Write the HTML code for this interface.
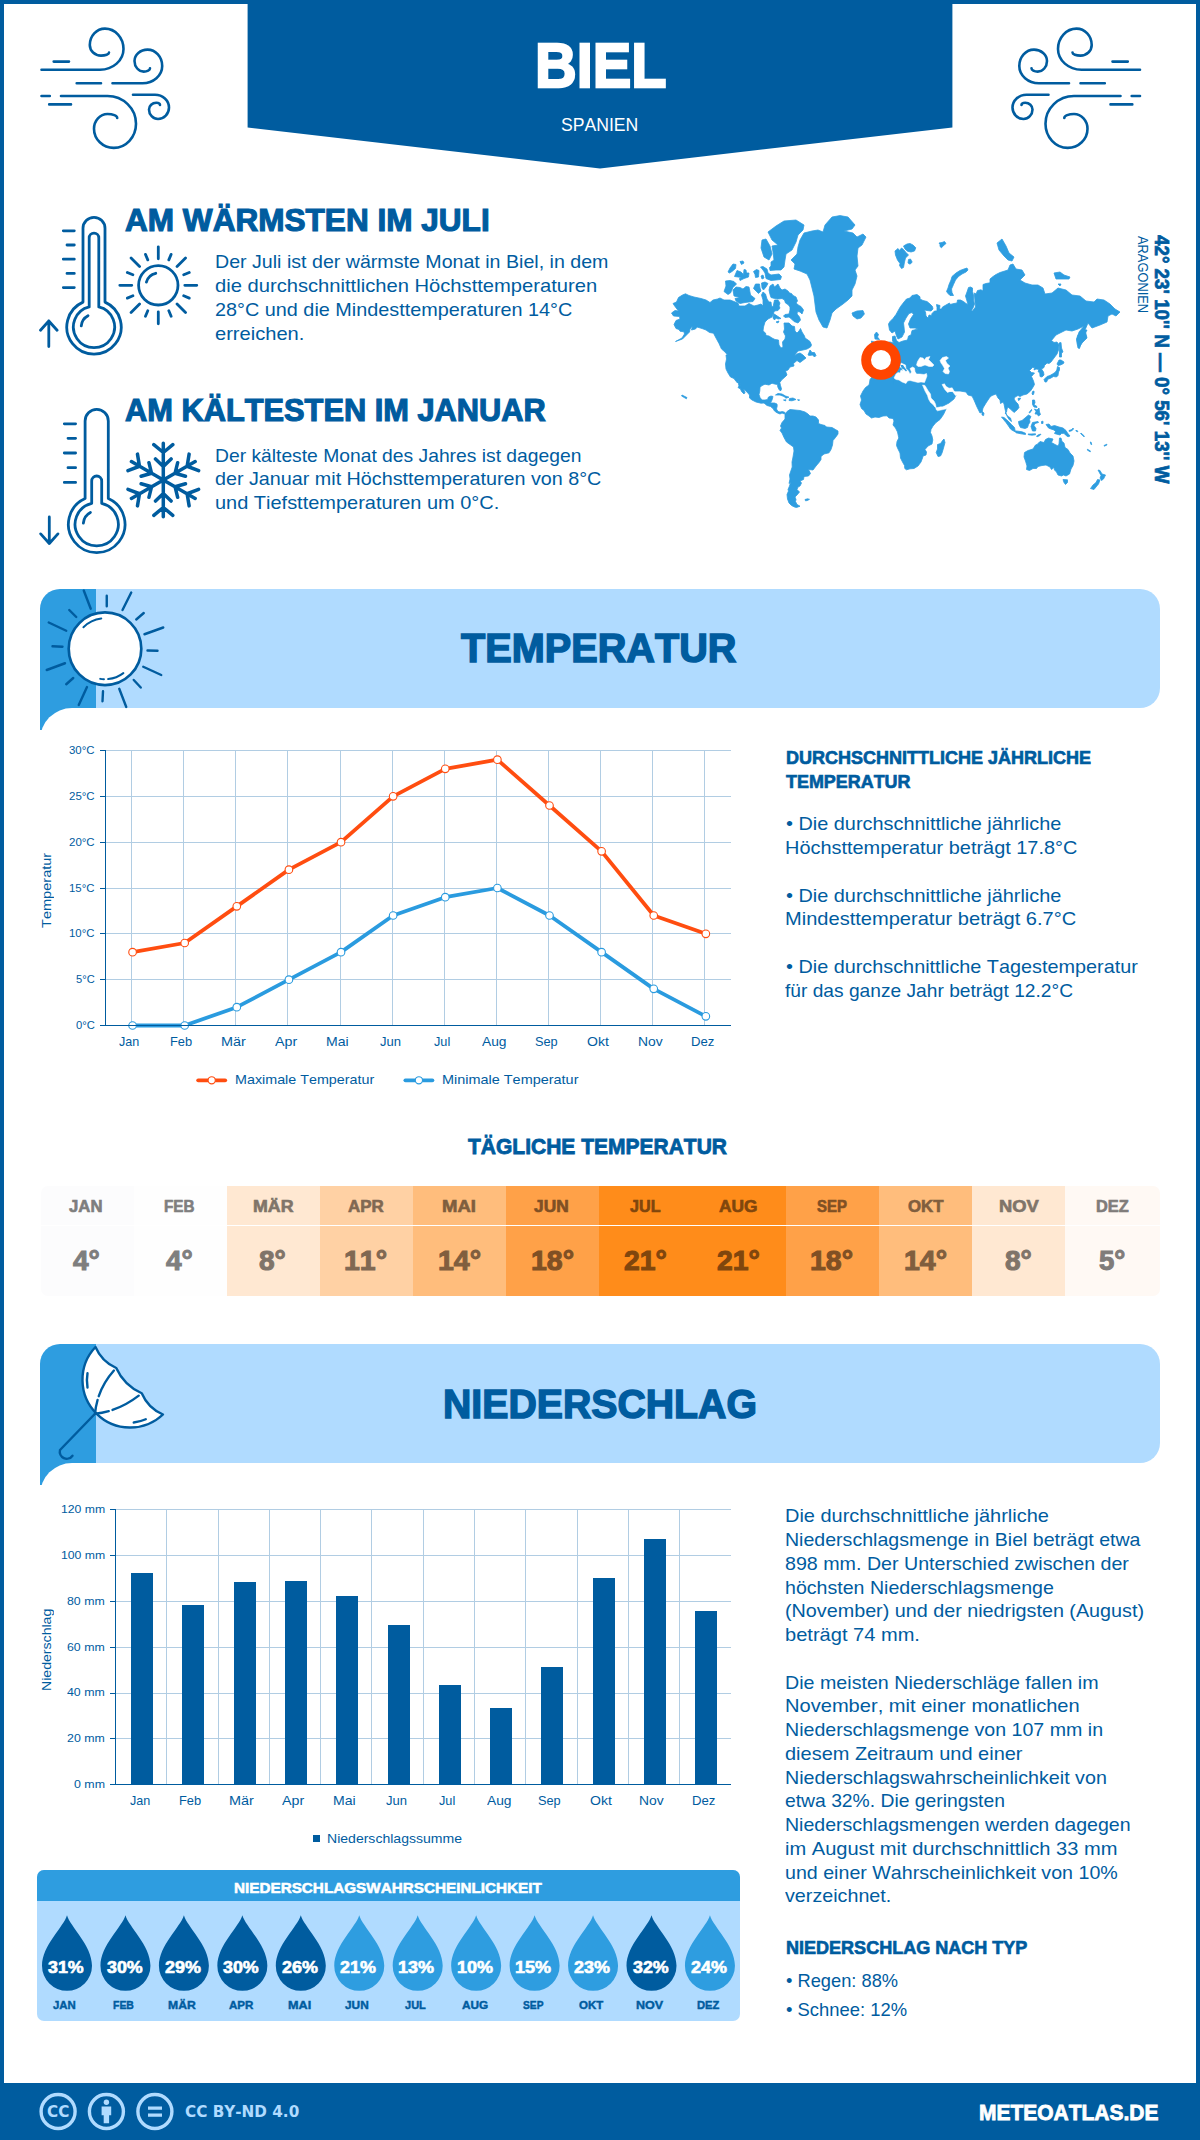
<!DOCTYPE html>
<html lang="de"><head><meta charset="utf-8"><title>Biel – Klima</title>
<style>
*{margin:0;padding:0;box-sizing:border-box}
html,body{width:1200px;height:2140px;background:#fff;overflow:hidden}
body{position:relative;font-family:"Liberation Sans",sans-serif;color:#005c9f;font-kerning:none}
.abs{position:absolute}
.t{position:absolute;white-space:nowrap;color:#005c9f;transform-origin:0 0}
svg{position:absolute;left:0;top:0;overflow:visible}
.frame{position:absolute;left:0;top:0;width:1200px;height:2140px;border:4px solid #005c9f;border-bottom:0;pointer-events:none}
.footer{position:absolute;left:0;top:2083px;width:1200px;height:57px;background:#005c9f}
.band{position:absolute;left:96px;width:1064px;height:119px;background:#b0dbff;border-radius:0 20px 20px 0}
.strip{position:absolute;left:40px;width:56px;height:141px;background:#2e9de0;border-radius:20px 0 0 0}
.panel{position:absolute;left:40px;width:200px;height:60px;background:#fff;border-radius:32px 0 0 0}
.rot{position:absolute;width:0;height:0;transform-origin:0 0}
</style></head><body>

<header>
<svg width="1200" height="2140" viewBox="0 0 1200 2140">
<polygon points="247.6,0 952.4,0 952.4,127.4 600,168.4 247.6,127.4" fill="#005c9f"/>
<g fill="none" stroke="#005c9f" stroke-width="2.6" stroke-linecap="round" stroke-linejoin="round"><path d="M41.50,69.70 L100.00,69.70 A23.50,20.70 0 0 0 123.50,49.00 A18.50,20.40 0 0 0 105.00,28.60 A15.20,16.40 0 0 0 89.80,45.00 A11.20,10.60 0 0 0 101.00,55.60 A8.00,3.00 0 0 0 109.00,52.60 M112.50,83.20 L142.50,83.20 A19.70,17.20 0 0 0 162.20,66.00 A14.70,16.40 0 0 0 147.50,49.60 A13.00,11.40 0 0 0 134.50,61.00 A9.25,10.60 0 0 0 143.75,71.60 A6.25,3.40 0 0 0 150.00,68.20 M61.00,96.00 L107.50,96.00 A28.50,27.75 0 0 1 136.00,123.75 A22.25,24.15 0 0 1 113.75,147.90 A19.75,19.15 0 0 1 94.00,128.75 A13.50,14.75 0 0 1 107.50,114.00 A9.70,4.00 0 0 1 117.20,118.00 M133.00,94.70 L155.00,94.70 A14.00,12.80 0 0 1 169.00,107.50 A11.00,11.50 0 0 1 158.00,119.00 A9.00,9.50 0 0 1 149.00,109.50 A7.25,6.80 0 0 1 156.25,102.70 A3.75,2.30 0 0 1 160.00,105.00 M53.7,61.6 L69,61.6 M76.7,83.2 L101,83.2 M41.5,96 L49.8,96 M49.2,104.4 L71,104.4"/></g>
<g transform="translate(1181.5,0) scale(-1,1)" fill="none" stroke="#005c9f" stroke-width="2.6" stroke-linecap="round" stroke-linejoin="round"><path d="M41.50,69.70 L100.00,69.70 A23.50,20.70 0 0 0 123.50,49.00 A18.50,20.40 0 0 0 105.00,28.60 A15.20,16.40 0 0 0 89.80,45.00 A11.20,10.60 0 0 0 101.00,55.60 A8.00,3.00 0 0 0 109.00,52.60 M112.50,83.20 L142.50,83.20 A19.70,17.20 0 0 0 162.20,66.00 A14.70,16.40 0 0 0 147.50,49.60 A13.00,11.40 0 0 0 134.50,61.00 A9.25,10.60 0 0 0 143.75,71.60 A6.25,3.40 0 0 0 150.00,68.20 M61.00,96.00 L107.50,96.00 A28.50,27.75 0 0 1 136.00,123.75 A22.25,24.15 0 0 1 113.75,147.90 A19.75,19.15 0 0 1 94.00,128.75 A13.50,14.75 0 0 1 107.50,114.00 A9.70,4.00 0 0 1 117.20,118.00 M133.00,94.70 L155.00,94.70 A14.00,12.80 0 0 1 169.00,107.50 A11.00,11.50 0 0 1 158.00,119.00 A9.00,9.50 0 0 1 149.00,109.50 A7.25,6.80 0 0 1 156.25,102.70 A3.75,2.30 0 0 1 160.00,105.00 M53.7,61.6 L69,61.6 M76.7,83.2 L101,83.2 M41.5,96 L49.8,96 M49.2,104.4 L71,104.4"/></g>
</svg>
<div class="t h1" style="left:534.93px;top:27.36px;font-size:62.2px;line-height:78px;font-weight:700;color:#fff;transform:scaleX(0.9289);-webkit-text-stroke:2.28px;">BIEL</div>
<div class="t" style="left:560.88px;top:112.50px;font-size:19.2px;line-height:24px;color:#fff;transform:scaleX(0.9182);">SPANIEN</div>
</header>
<section>
<svg width="1200" height="2140" viewBox="0 0 1200 2140">
<path d="M83.00,302.12 L83.00,228.30 A11,11 0 0 1 105.00,228.30 L105.00,302.12 A27.2,27.2 0 1 1 83.00,302.12 Z M89.20,306.97 L89.20,238.00 A4.8,4.8 0 0 1 98.80,238.00 L98.80,306.97 A20.6,20.6 0 1 1 89.20,306.97 Z M81.28,325.89 A12.77,12.77 0 0 1 88.00,315.72 M63.3,230.8 L74.3,230.8 M67,245 L74.3,245 M63.3,259.2 L74.3,259.2 M67,273.4 L74.3,273.4 M63.3,287.6 L74.3,287.6 M48.8,321 L48.8,346.5 M40.5,330.3 L48.8,321 L57.099999999999994,330.3" fill="none" stroke="#005c9f" stroke-width="2.8" stroke-linecap="round" stroke-linejoin="round"/>
<path d="M85.10,498.49 L85.10,420.90 A11.6,11.6 0 0 1 108.30,420.90 L108.30,498.49 A28.3,28.3 0 1 1 85.10,498.49 Z M91.70,503.29 L91.70,481.00 A5.0,5.0 0 0 1 101.70,481.00 L101.70,503.29 A21.6,21.6 0 1 1 91.70,503.29 Z M83.36,523.13 A13.39,13.39 0 0 1 90.41,512.48 M64.3,423.8 L75.6,423.8 M68,438.3 L75.6,438.3 M64.3,453 L75.6,453 M68,467.7 L75.6,467.7 M64.3,482.4 L75.6,482.4 M49.3,517 L49.3,543.5 M40.699999999999996,533.9 L49.3,543.5 L57.9,533.9" fill="none" stroke="#005c9f" stroke-width="2.8" stroke-linecap="round" stroke-linejoin="round"/>
<circle cx="158.3" cy="285.3" r="19.7" fill="none" stroke="#005c9f" stroke-width="2.8"/><path d="M184.80,285.30 L196.80,285.30 M183.71,295.82 L189.25,298.12 M177.04,304.04 L185.52,312.52 M168.82,310.71 L171.12,316.25 M158.30,311.80 L158.30,323.80 M147.78,310.71 L145.48,316.25 M139.56,304.04 L131.08,312.52 M132.89,295.82 L127.35,298.12 M131.80,285.30 L119.80,285.30 M132.89,274.78 L127.35,272.48 M139.56,266.56 L131.08,258.08 M147.78,259.89 L145.48,254.35 M158.30,258.80 L158.30,246.80 M168.82,259.89 L171.12,254.35 M177.04,266.56 L185.52,258.08 M183.71,274.78 L189.25,272.48 M146.42,282.12 A12.3,12.3 0 0 1 155.74,273.27" fill="none" stroke="#005c9f" stroke-width="2.8" stroke-linecap="round"/>
<path d="M163.30,480.00 L163.30,443.20 M163.30,452.50 L153.80,444.70 M163.30,452.50 L172.80,444.70 M163.30,466.40 L155.50,458.90 M163.30,466.40 L171.10,458.90 M163.30,480.00 L195.17,461.60 M187.12,466.25 L189.12,454.12 M187.12,466.25 L198.62,470.58 M175.08,473.20 L177.67,462.70 M175.08,473.20 L185.47,476.20 M163.30,480.00 L195.17,498.40 M187.12,493.75 L198.62,489.42 M187.12,493.75 L189.12,505.88 M175.08,486.80 L185.47,483.80 M175.08,486.80 L177.67,497.30 M163.30,480.00 L163.30,516.80 M163.30,507.50 L172.80,515.30 M163.30,507.50 L153.80,515.30 M163.30,493.60 L171.10,501.10 M163.30,493.60 L155.50,501.10 M163.30,480.00 L131.43,498.40 M139.48,493.75 L137.48,505.88 M139.48,493.75 L127.98,489.42 M151.52,486.80 L148.93,497.30 M151.52,486.80 L141.13,483.80 M163.30,480.00 L131.43,461.60 M139.48,466.25 L127.98,470.58 M139.48,466.25 L137.48,454.12 M151.52,473.20 L141.13,476.20 M151.52,473.20 L148.93,462.70" fill="none" stroke="#005c9f" stroke-width="3.5" stroke-linecap="round" stroke-linejoin="round"/>
</svg>
<div class="t" style="left:124.98px;top:201.13px;font-size:31px;line-height:39px;font-weight:700;transform:scaleX(1.0180);-webkit-text-stroke:1.14px;">AM WÄRMSTEN IM JULI</div>
<div class="t" style="left:215.24px;top:250.40px;font-size:19px;line-height:24px;transform:scaleX(1.0321);">Der Juli ist der wärmste Monat in Biel, in dem</div>
<div class="t" style="left:215.21px;top:274.10px;font-size:19px;line-height:24px;transform:scaleX(1.0611);">die durchschnittlichen Höchsttemperaturen</div>
<div class="t" style="left:214.93px;top:297.80px;font-size:19px;line-height:24px;transform:scaleX(1.0430);">28°C und die Mindesttemperaturen 14°C</div>
<div class="t" style="left:215.21px;top:321.50px;font-size:19px;line-height:24px;transform:scaleX(1.0579);">erreichen.</div>
<div class="t" style="left:125.00px;top:391.13px;font-size:31px;line-height:39px;font-weight:700;transform:scaleX(0.9931);-webkit-text-stroke:1.14px;">AM KÄLTESTEN IM JANUAR</div>
<div class="t" style="left:215.27px;top:443.70px;font-size:19px;line-height:24px;transform:scaleX(1.0144);">Der kälteste Monat des Jahres ist dagegen</div>
<div class="t" style="left:215.23px;top:467.40px;font-size:19px;line-height:24px;transform:scaleX(1.0386);">der Januar mit Höchsttemperaturen von 8°C</div>
<div class="t" style="left:215.22px;top:491.10px;font-size:19px;line-height:24px;transform:scaleX(1.0507);">und Tiefsttemperaturen um 0°C.</div>
<div class="rot" style="left:1155px;top:235.3px;transform:rotate(90deg)"><div class="t" style="left:0.08px;top:-19.36px;font-size:19.4px;line-height:24px;font-weight:700;transform:scaleX(0.9683);-webkit-text-stroke:0.72px;">42° 23&#x27; 10&#x27;&#x27; N — 0° 56&#x27; 13&#x27;&#x27; W</div><div class="t" style="left:0.67px;top:3.00px;font-size:14.8px;line-height:18px;transform:scaleX(0.8678);">ARAGONIEN</div></div>
<svg width="1200" height="2140" viewBox="0 0 1200 2140"><path d="M685.5,293.8 L689.0,295.5 L694.0,297.0 L701.0,298.5 L706.0,300.0 L710.0,302.5 L713.0,300.0 L717.5,299.0 L720.0,298.0 L724.0,300.0 L730.0,300.0 L738.0,303.0 L739.0,306.0 L745.0,306.0 L749.0,303.5 L754.0,306.0 L758.0,305.0 L761.0,304.0 L763.0,306.0 L763.0,300.0 L761.5,295.0 L763.0,292.0 L765.5,294.0 L767.0,299.0 L769.0,302.0 L771.0,302.0 L771.5,306.0 L773.0,307.0 L774.5,300.0 L778.0,300.0 L780.0,303.0 L779.0,306.0 L780.0,308.0 L778.0,310.5 L774.5,311.0 L773.0,314.0 L772.0,317.0 L768.0,319.0 L765.0,322.0 L763.5,327.0 L763.0,331.0 L765.5,333.0 L766.0,335.5 L769.0,336.0 L772.0,338.0 L775.0,339.5 L778.5,340.0 L779.0,345.0 L781.0,348.0 L783.0,347.0 L782.5,342.0 L785.0,339.0 L785.5,336.0 L783.5,332.0 L784.5,329.0 L784.0,323.0 L789.0,323.0 L792.0,326.0 L794.5,326.5 L795.0,331.0 L797.0,333.0 L799.0,331.0 L800.5,328.5 L802.0,332.0 L804.5,336.0 L805.0,338.0 L808.0,340.0 L810.0,341.5 L811.5,345.0 L810.5,347.0 L807.0,349.0 L803.0,350.0 L798.0,351.0 L794.0,356.0 L797.0,354.0 L800.0,353.0 L803.0,355.0 L806.0,358.0 L800.0,362.5 L797.0,360.5 L793.5,363.5 L794.0,366.0 L790.0,367.0 L788.0,370.0 L785.5,371.0 L787.0,375.0 L784.5,377.5 L782.0,379.5 L779.8,382.5 L780.5,385.5 L781.5,389.0 L780.5,391.0 L779.0,389.5 L777.8,387.0 L777.5,384.5 L774.5,384.0 L772.0,383.2 L769.0,385.0 L765.0,384.2 L762.0,385.5 L760.0,387.5 L759.8,391.0 L759.0,394.5 L760.0,397.5 L762.0,400.0 L765.0,400.0 L767.5,399.5 L768.5,397.0 L771.0,396.0 L773.0,396.5 L772.0,400.0 L770.5,403.0 L774.5,403.0 L777.0,404.0 L777.2,406.0 L776.5,409.0 L778.0,411.5 L780.0,412.0 L782.5,411.5 L785.0,412.5 L784.5,414.0 L782.0,413.0 L780.0,414.0 L777.0,412.8 L774.5,411.0 L773.0,408.5 L770.5,406.5 L767.0,405.5 L764.0,403.0 L761.0,403.2 L756.0,402.0 L752.0,400.0 L749.5,398.0 L749.5,395.0 L747.0,392.0 L744.0,389.5 L741.5,386.5 L740.0,383.0 L738.5,381.5 L737.5,383.0 L735.0,380.0 L734.0,378.5 L730.5,377.0 L728.0,373.0 L726.0,369.0 L725.5,364.0 L726.5,359.0 L726.0,355.0 L727.5,355.0 L725.0,352.0 L721.5,349.0 L719.0,343.5 L716.0,338.0 L713.5,333.2 L709.5,332.5 L706.0,330.0 L702.0,328.5 L697.0,327.0 L695.5,329.0 L691.5,330.0 L692.5,326.0 L690.0,329.0 L689.5,332.0 L686.5,335.0 L682.5,339.0 L675.5,341.5 L682.0,338.0 L684.5,334.0 L684.0,331.8 L680.0,331.2 L679.0,329.5 L676.0,328.5 L674.0,324.5 L676.0,320.5 L680.0,319.0 L679.5,316.5 L673.5,316.0 L671.5,313.0 L675.0,310.5 L678.5,311.0 L675.0,306.5 L673.0,303.5 L676.5,302.0 L678.5,297.5 L682.5,295.0Z M738.0,382.0 L739.5,382.0 L741.0,385.5 L743.5,389.0 L745.0,392.5 L744.0,394.0 L741.5,391.5 L740.5,389.0 L738.0,387.5 L739.0,386.0Z M783.5,400.0 L786.0,399.8 L785.5,401.0Z M797.5,399.8 L799.5,399.8 L799.0,400.8Z M769.0,290.0 L770.0,286.0 L773.0,284.0 L774.5,287.0 L778.0,284.0 L780.0,288.0 L782.0,290.0 L785.0,289.0 L788.0,291.0 L789.5,293.0 L791.5,293.5 L793.0,295.5 L796.0,297.0 L797.5,301.0 L796.0,303.0 L799.0,305.5 L801.0,306.5 L803.5,310.0 L802.0,314.0 L800.0,312.0 L797.5,311.5 L797.0,314.0 L799.5,317.0 L800.5,320.0 L798.0,323.0 L794.0,321.5 L791.5,319.0 L789.0,317.0 L785.0,317.5 L783.5,316.0 L785.0,314.5 L789.0,314.0 L790.0,310.0 L790.0,307.0 L788.0,304.5 L785.5,303.0 L784.5,300.0 L782.0,298.5 L778.0,299.0 L774.5,298.5 L771.0,297.5 L770.0,294.5Z M733.0,290.0 L736.0,287.0 L740.0,287.5 L743.0,289.0 L746.0,286.5 L749.0,287.0 L750.5,295.0 L755.0,298.5 L753.0,301.5 L749.0,302.0 L745.0,302.5 L740.0,303.5 L736.0,301.0 L735.0,298.5 L740.0,297.5 L734.0,296.0 L733.5,293.0Z M725.5,281.0 L730.0,280.5 L734.0,281.5 L736.5,284.0 L733.0,287.5 L730.5,293.0 L728.0,294.5 L724.0,291.5 L726.0,286.0Z M753.5,288.5 L755.5,284.0 L759.5,284.0 L760.0,288.0 L761.0,291.0 L758.5,293.5 L756.0,291.0Z M761.5,283.0 L765.0,282.0 L768.0,283.5 L766.0,287.0 L763.5,290.0 L762.0,288.0Z M734.5,276.5 L737.0,270.5 L741.0,272.0 L743.5,274.5 L744.0,269.5 L746.0,270.0 L746.5,273.0 L749.0,273.0 L748.5,277.0 L744.0,278.5 L740.0,280.5 L739.5,278.5 L741.5,277.5 L738.0,277.0Z M728.0,272.0 L730.0,268.0 L733.0,264.0 L736.0,264.5 L735.5,268.5 L732.0,271.5 L729.5,273.0Z M740.0,261.5 L743.0,261.0 L744.0,263.0 L741.5,264.5Z M753.5,271.5 L756.5,269.5 L759.0,270.5 L758.5,277.0 L755.5,277.5 L755.0,274.5Z M760.5,267.0 L763.0,266.5 L767.0,269.0 L768.0,273.0 L771.0,275.0 L775.0,274.5 L779.0,274.0 L781.5,276.5 L780.5,279.5 L776.0,280.0 L771.0,280.5 L766.0,278.5 L765.0,273.0 L763.0,270.0Z M761.0,276.0 L763.0,275.0 L764.0,278.0 L762.0,279.0Z M773.5,313.5 L781.0,318.5 L778.0,319.0 L776.0,318.0 L774.5,320.0 L773.0,318.0Z M776.0,322.0 L779.0,321.0 L778.0,323.0Z M808.0,355.0 L810.0,350.0 L812.0,352.5 L814.5,352.5 L816.0,355.5 L814.5,357.0 L812.5,355.0 L809.5,355.5Z M768.0,232.0 L776.0,226.0 L784.0,221.0 L796.0,220.0 L804.0,225.0 L803.0,230.0 L798.0,235.0 L796.0,242.0 L792.0,250.0 L786.0,254.0 L785.0,260.0 L784.0,267.0 L781.0,270.0 L776.0,270.0 L770.0,270.5 L769.5,267.5 L771.0,266.0 L771.0,262.0 L774.0,260.0 L773.0,252.0 L772.0,246.0 L778.0,245.0 L772.0,240.0Z M762.0,240.0 L766.0,239.0 L770.0,246.0 L772.0,254.0 L769.0,260.0 L764.0,257.0 L761.0,248.0Z M791.0,260.0 L797.0,254.0 L798.0,247.0 L800.0,240.0 L804.0,233.0 L812.0,231.0 L818.0,230.0 L823.0,232.0 L825.0,225.0 L832.0,217.0 L840.0,215.6 L848.0,217.0 L855.0,225.0 L852.0,229.0 L844.0,231.0 L853.0,233.0 L857.0,237.0 L863.0,234.0 L866.0,237.0 L862.0,245.0 L858.0,248.0 L857.0,256.0 L858.0,266.0 L855.0,270.0 L857.0,276.0 L855.0,284.0 L852.0,290.0 L852.0,296.0 L848.0,300.0 L843.0,304.0 L836.0,309.0 L832.0,313.0 L830.0,320.0 L827.0,328.0 L823.0,327.0 L819.0,320.0 L816.0,312.0 L815.0,304.0 L814.0,296.0 L812.0,288.0 L810.0,280.0 L807.0,274.0 L800.0,271.0 L794.0,269.0 L795.0,264.0Z M852.0,313.0 L857.0,311.0 L863.0,310.6 L864.4,314.0 L861.0,318.0 L857.0,319.0 L853.0,316.0Z M890.0,321.5 L893.0,318.5 L896.0,314.5 L898.5,310.0 L900.5,306.5 L904.0,302.0 L906.5,299.0 L910.0,298.0 L912.0,295.5 L917.0,294.5 L920.0,296.8 L920.0,299.0 L923.0,300.5 L927.0,301.5 L930.0,304.0 L932.5,306.5 L933.0,309.0 L931.0,311.0 L927.0,310.5 L924.0,310.0 L925.5,312.0 L926.0,316.0 L928.0,318.0 L929.0,315.0 L931.5,315.5 L932.0,313.5 L934.5,311.0 L937.0,311.0 L937.0,307.5 L936.5,304.5 L940.0,305.5 L939.5,309.0 L941.5,309.0 L942.5,307.0 L946.0,305.0 L949.5,303.0 L950.0,304.5 L954.0,303.5 L957.0,303.0 L957.5,300.0 L960.5,300.0 L963.5,301.5 L966.0,303.5 L968.0,304.5 L967.0,301.0 L965.5,296.0 L967.0,292.0 L968.5,287.5 L970.5,287.0 L972.5,288.0 L972.5,291.5 L973.5,295.0 L973.5,300.0 L974.5,304.0 L973.0,308.0 L971.5,310.5 L972.5,311.0 L975.5,307.0 L975.0,302.0 L974.5,296.0 L974.5,293.0 L976.0,294.0 L977.5,290.5 L981.0,289.8 L983.0,291.0 L983.0,284.5 L986.0,283.5 L990.0,282.8 L990.0,279.0 L993.0,276.5 L996.0,274.5 L1000.0,272.5 L1008.0,270.0 L1010.0,265.0 L1013.0,264.0 L1016.0,269.0 L1022.0,270.0 L1025.0,275.0 L1020.0,280.0 L1025.0,283.0 L1032.0,285.0 L1038.0,285.0 L1043.0,288.0 L1045.0,294.0 L1052.0,293.0 L1058.0,288.0 L1066.0,290.0 L1072.0,295.0 L1080.0,296.0 L1086.0,301.0 L1094.0,302.0 L1097.0,299.0 L1104.0,300.0 L1110.0,304.0 L1115.0,309.0 L1120.0,312.0 L1116.0,316.0 L1112.0,314.0 L1108.0,316.0 L1107.0,322.0 L1100.0,325.0 L1092.0,328.0 L1088.0,323.0 L1085.0,330.0 L1087.0,338.0 L1082.0,343.0 L1079.0,348.0 L1077.0,340.0 L1079.0,332.0 L1084.0,326.0 L1078.0,329.0 L1072.0,331.0 L1066.0,330.0 L1060.0,333.0 L1056.0,335.0 L1051.5,340.5 L1054.0,342.5 L1057.0,342.0 L1059.0,345.0 L1058.5,350.0 L1057.0,354.0 L1054.0,358.0 L1051.0,362.0 L1049.0,363.5 L1047.0,363.0 L1044.5,365.5 L1044.0,367.5 L1041.5,369.0 L1043.5,372.0 L1044.0,375.0 L1042.0,377.0 L1040.0,376.5 L1039.8,373.0 L1038.0,371.5 L1039.0,369.5 L1036.0,369.0 L1034.0,370.0 L1034.5,367.5 L1032.5,367.5 L1029.5,370.5 L1031.5,372.5 L1034.5,373.0 L1031.5,376.5 L1033.5,381.0 L1034.5,384.5 L1032.5,388.0 L1030.5,391.0 L1027.0,394.0 L1023.0,395.0 L1020.0,396.5 L1018.0,395.5 L1015.0,397.0 L1014.0,399.0 L1016.0,402.0 L1018.0,404.0 L1019.0,407.5 L1017.0,410.0 L1014.0,412.5 L1011.5,410.0 L1008.0,407.0 L1007.0,409.0 L1006.5,412.0 L1005.0,413.0 L1007.5,416.0 L1010.5,418.0 L1011.5,421.5 L1009.5,420.0 L1007.5,417.0 L1006.0,413.0 L1005.0,409.0 L1004.0,404.0 L1003.0,402.0 L1000.5,403.5 L1000.0,400.0 L998.0,398.0 L996.0,394.0 L992.0,395.5 L990.0,397.0 L986.0,403.0 L983.0,408.0 L982.0,412.0 L980.0,413.0 L977.0,407.0 L974.0,400.0 L972.0,396.0 L968.0,395.0 L966.0,392.0 L960.0,391.0 L954.0,391.0 L950.0,389.0 L946.0,386.0 L943.0,384.0 L945.0,388.0 L948.0,392.0 L953.0,392.0 L956.0,395.0 L954.0,399.0 L949.0,403.0 L943.0,406.0 L937.0,408.0 L936.5,405.0 L934.0,399.0 L931.0,393.0 L928.0,387.0 L925.5,384.0 L923.0,380.0 L926.0,375.0 L926.0,370.0 L922.0,369.0 L917.0,370.0 L913.0,369.0 L912.0,366.0 L914.0,363.0 L917.0,361.0 L911.0,365.0 L910.0,370.0 L908.0,368.0 L906.0,364.0 L904.0,362.0 L903.0,364.0 L906.0,368.0 L909.0,373.0 L907.0,374.0 L904.0,369.0 L901.0,365.0 L900.0,363.0 L896.0,362.0 L890.0,366.0 L888.0,372.0 L882.0,376.0 L874.0,376.0 L871.0,370.0 L871.0,362.0 L876.0,360.0 L877.0,352.0 L872.0,347.0 L871.5,341.0 L877.0,343.0 L884.0,343.0 L890.0,342.0 L894.0,343.0 L892.5,341.0 L892.5,336.5 L895.0,336.0 L896.5,340.5 L899.0,342.5 L903.0,341.0 L907.5,340.0 L908.5,336.0 L911.0,335.0 L912.0,330.5 L918.0,329.0 L915.0,328.0 L910.0,328.0 L908.5,324.0 L910.5,319.0 L913.5,314.5 L912.0,312.5 L909.0,313.5 L906.0,318.0 L903.5,323.0 L904.0,327.0 L904.5,332.0 L902.0,337.0 L898.0,339.0 L896.5,336.0 L895.0,331.0 L892.0,333.0 L889.5,330.0 L888.5,324.0Z M893.0,362.0 L928.0,356.0 L932.0,385.0 L926.0,390.0 L905.0,388.0 L893.0,384.0Z M919.0,383.0 L929.0,383.0 L941.0,405.0 L940.0,410.0 L934.0,411.0 L926.0,398.0Z M1059.0,343.0 L1061.0,342.5 L1061.5,348.0 L1063.0,352.0 L1061.5,353.0 L1061.5,357.0 L1059.5,357.0 L1059.5,350.0Z M1059.0,360.0 L1061.0,360.0 L1064.0,362.0 L1063.5,363.5 L1060.5,365.0 L1058.0,365.5 L1057.0,364.0Z M1057.5,366.5 L1059.5,367.5 L1059.5,370.0 L1058.5,372.0 L1058.0,375.5 L1056.5,377.0 L1053.5,376.5 L1050.0,378.5 L1048.0,379.0 L1046.5,382.0 L1045.0,382.0 L1044.0,379.5 L1047.0,376.5 L1050.0,375.5 L1052.5,374.0 L1055.0,372.5 L1056.8,370.0Z M1080.0,333.0 L1083.5,330.0 L1087.0,330.0 L1085.0,334.0 L1086.5,337.0 L1084.0,340.0 L1082.0,342.0 L1080.5,345.0 L1079.5,348.5 L1078.0,348.0 L1077.0,343.0 L1076.5,339.0 L1078.0,334.5Z M1032.5,391.5 L1034.0,391.0 L1034.0,393.0 L1033.0,395.0 L1032.0,394.0Z M1018.0,398.5 L1020.5,398.0 L1020.0,399.5 L1018.5,400.5Z M1032.5,400.0 L1034.5,400.0 L1035.0,402.5 L1034.0,405.0 L1036.5,406.0 L1037.0,407.5 L1034.0,407.0 L1032.5,404.5Z M1034.5,409.0 L1037.0,410.0 L1039.0,408.0 L1039.5,412.0 L1040.5,414.5 L1038.5,416.0 L1037.0,414.0 L1035.0,414.0 L1036.0,411.5Z M1029.0,412.5 L1031.5,409.5 L1032.0,410.0 L1029.7,413.0Z M1018.5,421.5 L1022.0,420.5 L1025.0,418.0 L1028.5,415.0 L1031.0,416.5 L1029.5,419.5 L1030.0,422.0 L1028.5,424.5 L1027.5,427.5 L1025.0,428.5 L1020.5,427.5 L1019.0,424.5Z M1001.5,417.0 L1004.0,417.5 L1008.0,421.0 L1011.5,424.5 L1014.5,427.5 L1015.0,430.0 L1014.8,431.5 L1012.5,430.5 L1010.5,429.0 L1008.5,426.0 L1006.0,422.5 L1003.5,419.5Z M1032.5,422.5 L1038.0,421.5 L1038.5,422.5 L1035.0,423.5 L1034.0,425.5 L1036.0,428.5 L1035.5,431.0 L1032.5,431.0 L1031.0,426.5Z M1041.5,421.5 L1043.0,421.2 L1043.0,423.5 L1041.5,423.5Z M1024.5,452.5 L1028.0,450.5 L1033.0,449.0 L1035.5,445.0 L1037.0,444.5 L1040.0,441.5 L1044.0,442.5 L1045.5,439.5 L1048.5,438.0 L1053.0,439.0 L1051.5,442.5 L1055.0,444.5 L1058.0,446.0 L1059.0,444.0 L1059.5,438.0 L1061.0,438.0 L1062.0,441.5 L1064.0,443.0 L1065.0,447.5 L1068.0,449.5 L1070.0,453.0 L1073.0,456.0 L1074.0,461.0 L1073.0,465.5 L1071.0,469.0 L1069.5,474.0 L1066.0,476.0 L1063.5,475.0 L1061.5,476.0 L1058.0,475.0 L1056.5,472.0 L1054.5,470.0 L1054.0,467.5 L1051.5,469.5 L1050.0,467.0 L1046.0,465.0 L1042.0,465.5 L1038.0,466.5 L1036.5,468.5 L1033.0,468.5 L1029.5,470.5 L1026.5,469.5 L1027.0,466.0 L1025.5,461.0 L1024.0,457.0Z M1063.0,479.5 L1067.5,479.8 L1067.5,482.5 L1065.5,484.5 L1064.0,482.5Z M1098.0,470.0 L1100.0,470.5 L1102.0,474.0 L1105.5,475.0 L1103.5,479.0 L1101.5,480.5 L1100.0,478.0 L1101.0,475.5Z M1097.5,479.5 L1100.0,480.0 L1098.5,484.0 L1096.0,487.0 L1094.0,489.5 L1090.5,488.5 L1093.0,485.0 L1096.0,482.5Z M1014.5,430.8 L1018.0,431.2 L1022.0,431.8 L1025.5,433.2 L1025.5,434.5 L1021.0,433.8 L1016.0,432.8Z M1028.0,434.0 L1031.0,434.0 L1035.5,433.8 L1035.5,434.8 L1032.0,435.2 L1028.5,434.8Z M1036.5,436.0 L1039.0,434.5 L1041.0,434.2 L1039.5,435.8 L1037.0,436.8Z M1046.0,424.5 L1049.0,424.0 L1051.0,426.5 L1054.5,425.5 L1059.0,427.0 L1063.0,428.0 L1066.0,430.5 L1067.5,433.0 L1070.0,436.0 L1068.0,436.8 L1065.5,435.0 L1064.0,433.2 L1061.5,433.5 L1060.0,435.0 L1057.0,434.2 L1054.5,433.5 L1055.5,431.5 L1054.0,430.0 L1051.0,429.0 L1048.5,428.0Z M1069.0,430.5 L1072.0,429.5 L1073.0,428.0 L1073.5,429.0 L1071.5,431.0 L1069.0,431.3Z M1076.0,430.3 L1078.0,431.2 L1077.6,431.8 L1075.8,430.9Z M1081.0,433.0 L1084.5,436.2 L1084.0,436.8 L1080.6,433.6Z M1090.3,442.0 L1091.0,442.0 L1091.7,444.5 L1091.0,444.6Z M1087.5,449.3 L1090.5,451.0 L1090.2,451.8 L1087.2,450.0Z M1104.0,445.5 L1106.8,444.2 L1107.0,444.9 L1104.3,446.2Z M872.0,377.0 L880.0,374.0 L894.0,376.0 L895.0,378.0 L898.0,379.5 L902.0,381.5 L906.0,383.0 L908.0,380.0 L912.0,380.8 L916.0,382.0 L920.0,382.5 L924.5,382.5 L923.0,385.0 L925.0,388.0 L927.0,392.0 L929.0,395.5 L930.0,399.0 L933.0,402.5 L935.5,405.0 L936.0,408.0 L937.5,410.5 L942.0,409.5 L946.0,408.5 L945.8,409.5 L943.5,414.5 L940.0,419.5 L936.0,422.5 L933.0,426.0 L931.0,429.5 L930.5,432.5 L932.0,436.0 L932.8,440.0 L932.0,444.0 L928.0,446.0 L925.0,449.5 L926.5,452.0 L926.0,455.0 L923.0,456.0 L922.5,458.0 L921.0,462.0 L918.0,466.0 L914.0,468.5 L910.0,468.8 L906.5,469.8 L904.8,468.5 L904.5,465.5 L902.5,462.0 L900.5,458.0 L900.0,453.0 L898.0,449.0 L896.5,445.5 L897.0,441.5 L898.8,438.0 L897.5,432.0 L895.5,428.0 L893.0,425.0 L894.0,421.0 L893.0,418.5 L889.0,418.0 L887.0,415.8 L883.0,416.0 L879.0,417.5 L875.0,417.0 L871.5,418.0 L869.0,416.0 L866.0,414.0 L864.0,410.5 L861.5,408.5 L860.0,404.5 L861.5,400.0 L860.5,396.0 L863.0,391.0 L865.5,387.5 L869.0,385.0 L869.5,383.0 L870.0,379.5Z M937.5,444.5 L940.5,443.5 L943.0,440.0 L944.0,439.0 L945.0,442.5 L943.5,448.0 L942.0,453.0 L940.5,456.0 L938.0,456.5 L936.2,452.5 L937.5,449.0Z M895.0,251.0 L898.0,248.5 L899.5,250.5 L901.5,248.0 L903.5,249.5 L906.0,252.5 L908.5,255.0 L905.5,258.0 L904.5,262.0 L903.5,267.5 L901.5,268.5 L899.5,265.5 L900.0,263.5 L897.5,260.0 L895.5,255.0Z M903.5,246.0 L907.0,244.0 L910.0,243.5 L913.0,245.0 L915.8,247.8 L914.5,251.0 L911.0,252.0 L907.5,251.2 L905.0,249.0Z M908.5,259.5 L910.5,259.0 L912.2,262.2 L910.0,264.2 L908.0,263.0Z M939.0,243.0 L942.0,242.5 L944.5,241.5 L946.0,243.5 L943.0,246.0 L941.5,247.8 L940.0,246.5 L940.0,244.5Z M946.5,291.5 L948.0,288.0 L949.0,284.5 L951.0,280.0 L952.0,276.5 L956.0,273.0 L960.0,270.5 L964.0,269.0 L967.0,268.0 L968.0,270.0 L966.0,272.0 L962.0,274.0 L958.5,276.5 L955.5,280.0 L953.5,284.5 L951.5,289.0 L952.0,292.5 L953.5,295.5 L950.0,295.5 L948.0,293.5Z M876.5,332.0 L878.5,334.5 L877.5,337.0 L879.5,339.5 L875.0,339.0 L874.5,334.5Z M997.0,243.0 L1002.0,239.0 L1006.0,246.0 L1009.0,253.0 L1014.0,257.0 L1012.0,261.0 L1008.0,260.0 L1004.0,256.0 L999.0,250.0Z M1054.0,273.0 L1060.0,272.0 L1064.0,275.0 L1070.0,277.0 L1069.0,279.0 L1062.0,279.0 L1056.0,279.0Z M1058.0,284.0 L1061.0,284.0 L1060.0,286.0Z M787.0,411.5 L790.0,409.5 L795.0,410.0 L800.0,410.5 L805.0,412.0 L808.0,414.0 L810.0,416.0 L813.0,416.0 L816.0,417.0 L818.5,420.0 L818.5,423.5 L821.0,424.5 L825.0,425.5 L826.5,427.0 L832.0,427.5 L835.5,429.5 L838.0,431.0 L838.0,434.0 L835.5,437.5 L833.0,440.5 L832.5,445.0 L831.0,449.5 L829.0,452.8 L824.0,454.0 L821.0,456.5 L821.0,459.5 L819.0,462.5 L816.0,466.0 L813.0,470.0 L808.5,469.5 L810.5,473.5 L808.5,476.0 L804.0,476.5 L803.5,479.5 L800.0,481.0 L801.5,483.0 L800.0,486.0 L798.0,487.0 L797.0,489.5 L799.5,492.0 L797.0,495.0 L795.0,497.0 L796.0,499.5 L795.5,501.5 L797.0,504.5 L800.0,506.2 L796.5,507.5 L794.5,507.0 L791.5,505.5 L789.0,503.0 L787.5,499.0 L787.0,494.5 L788.5,491.0 L788.0,489.5 L789.5,486.0 L790.5,482.5 L789.0,483.5 L790.0,479.0 L789.5,475.0 L790.5,472.0 L792.2,467.0 L792.0,462.0 L793.0,457.0 L794.0,451.0 L793.5,447.0 L790.0,444.5 L786.5,442.0 L784.0,437.5 L782.0,433.0 L780.0,430.5 L781.5,428.0 L780.5,426.0 L782.0,422.5 L785.0,419.0 L785.0,414.0Z M805.0,499.5 L807.5,498.8 L809.5,499.3 L807.5,500.5 L805.5,500.8Z M982.0,411.6 L984.0,413.0 L983.6,415.6 L982.0,415.0Z M775.5,395.0 L778.0,393.5 L782.0,394.0 L785.5,396.0 L789.0,397.2 L786.0,398.2 L784.0,396.5 L780.0,395.0Z M789.5,398.5 L793.0,398.0 L796.0,399.5 L792.0,400.8 L789.0,400.5Z M682.0,395.0 L687.0,397.6 L686.4,398.8 L681.6,396.0Z" fill="#2e9de0" stroke="#2e9de0" stroke-width="0.8" stroke-linejoin="round"/><path d="M916.5,365.0 L917.5,361.5 L920.0,357.5 L923.0,358.0 L924.5,360.0 L926.0,357.5 L930.0,356.5 L928.5,359.5 L931.0,362.0 L934.0,365.0 L932.5,366.5 L929.0,366.5 L925.0,365.0 L921.0,366.5 L918.0,366.5Z M940.0,360.5 L942.5,357.5 L946.5,356.5 L948.5,358.0 L945.5,360.5 L947.0,363.5 L950.0,366.0 L948.0,368.0 L949.5,371.5 L948.5,374.0 L945.0,373.5 L943.0,371.5 L944.5,368.5 L942.5,365.0 L941.0,363.0Z M894.5,377.0 L896.0,374.0 L898.0,372.5 L900.0,373.0 L901.0,370.0 L903.0,371.0 L902.0,368.0 L900.0,367.0 L901.0,363.0 L905.5,365.0 L906.0,368.5 L908.5,371.0 L910.0,374.0 L911.5,372.0 L910.0,368.5 L912.5,367.0 L914.5,368.0 L915.0,371.5 L916.5,374.0 L920.0,374.0 L924.0,374.5 L926.5,373.5 L927.0,376.0 L925.5,380.0 L924.5,382.5 L921.0,382.0 L918.0,382.5 L914.0,381.5 L910.0,380.5 L907.5,381.0 L906.0,383.5 L902.0,382.0 L899.0,380.0 L896.0,379.5 L894.0,378.0Z M922.5,385.0 L925.0,385.5 L928.0,390.5 L930.5,394.0 L931.0,398.0 L934.0,401.0 L935.5,404.0 L936.2,407.5 L935.0,407.2 L933.0,404.5 L930.5,402.5 L928.5,399.0 L927.5,395.5 L925.0,391.0Z M935.8,407.8 L941.0,406.8 L945.5,407.8 L946.5,408.8 L942.0,409.8 L937.5,410.8 L936.2,409.7Z M942.0,384.5 L944.5,383.8 L946.0,386.5 L949.0,388.2 L952.2,387.8 L954.0,391.0 L956.8,394.5 L955.5,395.5 L952.5,391.5 L950.0,391.5 L947.5,392.5 L944.8,389.5Z" fill="#fff" stroke="#fff" stroke-width="0.5" stroke-linejoin="round"/><path d="M900.5,365.0 L903.0,365.0 L905.0,368.0 L907.0,370.5 L906.0,371.5 L904.0,369.5 L902.0,368.5 L901.0,366.5Z" fill="#2e9de0"/><circle cx="881" cy="360" r="14.9" fill="#fff" stroke="#ff4500" stroke-width="9.8"/></svg>
</section>
<section>
<div class="strip" style="top:588.75px"></div>
<div class="band" style="top:588.75px"></div>
<div class="panel" style="top:707.5px"></div>
<svg width="1200" height="2140" viewBox="0 0 1200 2140"><path d="M83.75,590.50 L90.75,608.75 M131.25,592.50 L122.50,610.00 M163.25,627.50 L144.50,634.25 M161.25,675.00 L143.25,666.75 M126.25,707.00 L119.25,688.75 M78.75,705.00 L87.00,687.00 M46.75,670.00 L65.00,663.25 M48.75,622.50 L66.25,630.75 M106.75,595.75 L106.75,606.25 M143.75,613.00 L136.25,619.50 M157.50,650.75 L147.50,650.50 M140.75,687.50 L133.75,680.00 M102.50,701.25 L103.00,691.25 M66.25,684.25 L73.25,678.00 M52.50,646.25 L62.50,646.75 M69.25,610.00 L76.25,617.00" stroke="#005c9f" stroke-width="2.4" stroke-linecap="round" fill="none"/><circle cx="105.0" cy="648.75" r="36.3" fill="#fff" stroke="#005c9f" stroke-width="2.7"/><path d="M83.43,627.18 A30.5,30.5 0 0 1 101.28,618.48 M123.36,673.11 A30.5,30.5 0 0 1 108.19,679.08 M103.94,679.23 A30.5,30.5 0 0 1 100.23,678.87" stroke="#005c9f" stroke-width="2" stroke-linecap="round" fill="none"/></svg>
<div class="t h2" style="left:461.10px;top:622.55px;font-size:40.6px;line-height:51px;font-weight:700;transform:scaleX(0.9777);-webkit-text-stroke:1.5px;">TEMPERATUR</div>
<svg width="1200" height="2140" viewBox="0 0 1200 2140"><path d="M131.5,750.0 V1025.5 M183.5,750.0 V1025.5 M235.5,750.0 V1025.5 M287.5,750.0 V1025.5 M340.5,750.0 V1025.5 M392.5,750.0 V1025.5 M444.5,750.0 V1025.5 M496.5,750.0 V1025.5 M548.5,750.0 V1025.5 M600.5,750.0 V1025.5 M652.5,750.0 V1025.5 M704.5,750.0 V1025.5 M105.5,979.5 H730.9 M105.5,933.5 H730.9 M105.5,888.5 H730.9 M105.5,842.5 H730.9 M105.5,796.5 H730.9 M105.5,750.5 H730.9" stroke="#b1cde3" stroke-width="1" fill="none" shape-rendering="crispEdges"/><polyline points="132.56,952.17 184.68,943.00 236.79,906.33 288.91,869.67 341.02,842.17 393.14,796.33 445.26,768.83 497.38,759.67 549.49,805.50 601.61,851.33 653.73,915.50 705.84,933.83" fill="none" stroke="#ff4d10" stroke-width="3.8" stroke-linejoin="round" stroke-linecap="round"/><circle cx="132.56" cy="952.17" r="3.8" fill="#fff" stroke="#ff4d10" stroke-width="1.1"/><circle cx="184.68" cy="943.00" r="3.8" fill="#fff" stroke="#ff4d10" stroke-width="1.1"/><circle cx="236.79" cy="906.33" r="3.8" fill="#fff" stroke="#ff4d10" stroke-width="1.1"/><circle cx="288.91" cy="869.67" r="3.8" fill="#fff" stroke="#ff4d10" stroke-width="1.1"/><circle cx="341.02" cy="842.17" r="3.8" fill="#fff" stroke="#ff4d10" stroke-width="1.1"/><circle cx="393.14" cy="796.33" r="3.8" fill="#fff" stroke="#ff4d10" stroke-width="1.1"/><circle cx="445.26" cy="768.83" r="3.8" fill="#fff" stroke="#ff4d10" stroke-width="1.1"/><circle cx="497.38" cy="759.67" r="3.8" fill="#fff" stroke="#ff4d10" stroke-width="1.1"/><circle cx="549.49" cy="805.50" r="3.8" fill="#fff" stroke="#ff4d10" stroke-width="1.1"/><circle cx="601.61" cy="851.33" r="3.8" fill="#fff" stroke="#ff4d10" stroke-width="1.1"/><circle cx="653.73" cy="915.50" r="3.8" fill="#fff" stroke="#ff4d10" stroke-width="1.1"/><circle cx="705.84" cy="933.83" r="3.8" fill="#fff" stroke="#ff4d10" stroke-width="1.1"/><polyline points="132.56,1025.50 184.68,1025.50 236.79,1007.17 288.91,979.67 341.02,952.17 393.14,915.50 445.26,897.17 497.38,888.00 549.49,915.50 601.61,952.17 653.73,988.83 705.84,1016.33" fill="none" stroke="#2a9bdf" stroke-width="3.8" stroke-linejoin="round" stroke-linecap="round"/><circle cx="132.56" cy="1025.50" r="3.8" fill="#fff" stroke="#2a9bdf" stroke-width="1.1"/><circle cx="184.68" cy="1025.50" r="3.8" fill="#fff" stroke="#2a9bdf" stroke-width="1.1"/><circle cx="236.79" cy="1007.17" r="3.8" fill="#fff" stroke="#2a9bdf" stroke-width="1.1"/><circle cx="288.91" cy="979.67" r="3.8" fill="#fff" stroke="#2a9bdf" stroke-width="1.1"/><circle cx="341.02" cy="952.17" r="3.8" fill="#fff" stroke="#2a9bdf" stroke-width="1.1"/><circle cx="393.14" cy="915.50" r="3.8" fill="#fff" stroke="#2a9bdf" stroke-width="1.1"/><circle cx="445.26" cy="897.17" r="3.8" fill="#fff" stroke="#2a9bdf" stroke-width="1.1"/><circle cx="497.38" cy="888.00" r="3.8" fill="#fff" stroke="#2a9bdf" stroke-width="1.1"/><circle cx="549.49" cy="915.50" r="3.8" fill="#fff" stroke="#2a9bdf" stroke-width="1.1"/><circle cx="601.61" cy="952.17" r="3.8" fill="#fff" stroke="#2a9bdf" stroke-width="1.1"/><circle cx="653.73" cy="988.83" r="3.8" fill="#fff" stroke="#2a9bdf" stroke-width="1.1"/><circle cx="705.84" cy="1016.33" r="3.8" fill="#fff" stroke="#2a9bdf" stroke-width="1.1"/><path d="M105.5,750.0 V1026.0 M105.0,1025.5 H730.9 M100.0,979.5 H105.5 M100.0,933.5 H105.5 M100.0,888.5 H105.5 M100.0,842.5 H105.5 M100.0,796.5 H105.5 M100.0,750.5 H105.5 M100.0,1025.5 H105.5" stroke="#005c9f" stroke-width="1" fill="none" shape-rendering="crispEdges"/><path d="M198.2,1080.3 h27" stroke="#ff4d10" stroke-width="3.8" stroke-linecap="round"/><circle cx="211.7" cy="1080.3" r="3.6" fill="#fff" stroke="#ff4d10" stroke-width="1.1"/><path d="M405.4,1080.3 h27" stroke="#2a9bdf" stroke-width="3.8" stroke-linecap="round"/><circle cx="418.9" cy="1080.3" r="3.6" fill="#fff" stroke="#2a9bdf" stroke-width="1.1"/></svg>
<div class="t" style="left:75.87px;top:1018.00px;font-size:11.8px;line-height:15px;transform:scaleX(0.9525);">0°C</div>
<div class="t" style="left:76.03px;top:972.17px;font-size:11.8px;line-height:15px;transform:scaleX(0.9438);">5°C</div>
<div class="t" style="left:69.29px;top:926.33px;font-size:11.8px;line-height:15px;transform:scaleX(0.9649);">10°C</div>
<div class="t" style="left:69.29px;top:880.50px;font-size:11.8px;line-height:15px;transform:scaleX(0.9649);">15°C</div>
<div class="t" style="left:69.08px;top:834.67px;font-size:11.8px;line-height:15px;transform:scaleX(0.9730);">20°C</div>
<div class="t" style="left:69.08px;top:788.83px;font-size:11.8px;line-height:15px;transform:scaleX(0.9730);">25°C</div>
<div class="t" style="left:69.19px;top:743.00px;font-size:11.8px;line-height:15px;transform:scaleX(0.9688);">30°C</div>
<div class="t" style="left:119.44px;top:1032.90px;font-size:13.3px;line-height:17px;transform:scaleX(0.9449);">Jan</div>
<div class="t" style="left:170.03px;top:1032.90px;font-size:13.3px;line-height:17px;transform:scaleX(0.9672);">Feb</div>
<div class="t" style="left:220.60px;top:1032.90px;font-size:13.3px;line-height:17px;transform:scaleX(1.0843);">Mär</div>
<div class="t" style="left:274.62px;top:1032.90px;font-size:13.3px;line-height:17px;transform:scaleX(1.0717);">Apr</div>
<div class="t" style="left:326.29px;top:1032.90px;font-size:13.3px;line-height:17px;transform:scaleX(1.0576);">Mai</div>
<div class="t" style="left:379.64px;top:1032.90px;font-size:13.3px;line-height:17px;transform:scaleX(0.9817);">Jun</div>
<div class="t" style="left:434.14px;top:1032.90px;font-size:13.3px;line-height:17px;transform:scaleX(0.9581);">Jul</div>
<div class="t" style="left:482.24px;top:1032.90px;font-size:13.3px;line-height:17px;transform:scaleX(1.0367);">Aug</div>
<div class="t" style="left:534.81px;top:1032.90px;font-size:13.3px;line-height:17px;transform:scaleX(0.9598);">Sep</div>
<div class="t" style="left:587.11px;top:1032.90px;font-size:13.3px;line-height:17px;transform:scaleX(1.0555);">Okt</div>
<div class="t" style="left:637.54px;top:1032.90px;font-size:13.3px;line-height:17px;transform:scaleX(1.0433);">Nov</div>
<div class="t" style="left:690.63px;top:1032.90px;font-size:13.3px;line-height:17px;transform:scaleX(0.9892);">Dez</div>
<div class="t" style="left:235.13px;top:1071.30px;font-size:13.3px;line-height:17px;transform:scaleX(1.0763);">Maximale Temperatur</div>
<div class="t" style="left:442.12px;top:1071.30px;font-size:13.3px;line-height:17px;transform:scaleX(1.0861);">Minimale Temperatur</div>
<div class="rot" style="left:51px;top:927.5px;transform:rotate(-90deg)"><div class="t" style="left:-0.33px;top:-13.00px;font-size:13.3px;line-height:17px;transform:scaleX(1.0942);">Temperatur</div></div>
<div class="t" style="left:785.83px;top:746.37px;font-size:18.4px;line-height:23px;font-weight:700;transform:scaleX(0.9792);-webkit-text-stroke:0.67px;">DURCHSCHNITTLICHE JÄHRLICHE</div>
<div class="t" style="left:785.51px;top:770.06px;font-size:18.4px;line-height:23px;font-weight:700;transform:scaleX(0.9747);-webkit-text-stroke:0.67px;">TEMPERATUR</div>
<div class="t" style="left:785.73px;top:812.40px;font-size:19px;line-height:24px;transform:scaleX(1.0457);">• Die durchschnittliche jährliche</div>
<div class="t" style="left:785.22px;top:836.10px;font-size:19px;line-height:24px;transform:scaleX(1.0478);">Höchsttemperatur beträgt 17.8°C</div>
<div class="t" style="left:785.73px;top:883.60px;font-size:19px;line-height:24px;transform:scaleX(1.0457);">• Die durchschnittliche jährliche</div>
<div class="t" style="left:785.21px;top:907.30px;font-size:19px;line-height:24px;transform:scaleX(1.0558);">Mindesttemperatur beträgt 6.7°C</div>
<div class="t" style="left:785.73px;top:954.80px;font-size:19px;line-height:24px;transform:scaleX(1.0433);">• Die durchschnittliche Tagestemperatur</div>
<div class="t" style="left:785.00px;top:978.50px;font-size:19px;line-height:24px;transform:scaleX(1.0092);">für das ganze Jahr beträgt 12.2°C</div>
<div class="t" style="left:468.46px;top:1134.11px;font-size:21.4px;line-height:27px;font-weight:700;transform:scaleX(0.9816);-webkit-text-stroke:0.79px;">TÄGLICHE TEMPERATUR</div>
<div class="abs" style="left:40.5px;top:1186.2px;width:1119.5px;height:109.6px;border-radius:7px;overflow:hidden">
<div class="abs" style="left:0.00px;top:0;width:93.40px;height:38.6px;background:#fcfcfd"></div>
<div class="abs" style="left:0.00px;top:39.8px;width:93.40px;height:70px;background:#fcfcfd"></div>
<div class="abs" style="left:93.15px;top:0;width:93.40px;height:38.6px;background:#fefefe"></div>
<div class="abs" style="left:93.15px;top:39.8px;width:93.40px;height:70px;background:#fefefe"></div>
<div class="abs" style="left:186.30px;top:0;width:93.40px;height:38.6px;background:#ffe8d2"></div>
<div class="abs" style="left:186.30px;top:39.8px;width:93.40px;height:70px;background:#ffe8d2"></div>
<div class="abs" style="left:279.45px;top:0;width:93.40px;height:38.6px;background:#ffd1a4"></div>
<div class="abs" style="left:279.45px;top:39.8px;width:93.40px;height:70px;background:#ffd1a4"></div>
<div class="abs" style="left:372.60px;top:0;width:93.40px;height:38.6px;background:#ffbd7c"></div>
<div class="abs" style="left:372.60px;top:39.8px;width:93.40px;height:70px;background:#ffbd7c"></div>
<div class="abs" style="left:465.75px;top:0;width:93.40px;height:38.6px;background:#ffa148"></div>
<div class="abs" style="left:465.75px;top:39.8px;width:93.40px;height:70px;background:#ffa148"></div>
<div class="abs" style="left:558.90px;top:0;width:93.40px;height:38.6px;background:#ff8c1a"></div>
<div class="abs" style="left:558.90px;top:39.8px;width:93.40px;height:70px;background:#ff8c1a"></div>
<div class="abs" style="left:652.05px;top:0;width:93.40px;height:38.6px;background:#ff8c1a"></div>
<div class="abs" style="left:652.05px;top:39.8px;width:93.40px;height:70px;background:#ff8c1a"></div>
<div class="abs" style="left:745.20px;top:0;width:93.40px;height:38.6px;background:#ffa148"></div>
<div class="abs" style="left:745.20px;top:39.8px;width:93.40px;height:70px;background:#ffa148"></div>
<div class="abs" style="left:838.35px;top:0;width:93.40px;height:38.6px;background:#ffbd7c"></div>
<div class="abs" style="left:838.35px;top:39.8px;width:93.40px;height:70px;background:#ffbd7c"></div>
<div class="abs" style="left:931.50px;top:0;width:93.40px;height:38.6px;background:#ffe8d2"></div>
<div class="abs" style="left:931.50px;top:39.8px;width:93.40px;height:70px;background:#ffe8d2"></div>
<div class="abs" style="left:1024.65px;top:0;width:94.85px;height:38.6px;background:#fff9f4"></div>
<div class="abs" style="left:1024.65px;top:39.8px;width:94.85px;height:70px;background:#fff9f4"></div>
</div>
<div class="t" style="left:68.53px;top:1194.88px;font-size:17.4px;line-height:22px;font-weight:700;color:#7e7e7e;transform:scaleX(0.9616);-webkit-text-stroke:0.64px;">JAN</div>
<div class="t" style="left:72.88px;top:1244.30px;font-size:27.2px;line-height:34px;font-weight:700;color:#7e7e7e;transform:scaleX(1.0327);-webkit-text-stroke:1.0px;">4°</div>
<div class="t" style="left:164.42px;top:1194.88px;font-size:17.4px;line-height:22px;font-weight:700;color:#7f7f7f;transform:scaleX(0.8783);-webkit-text-stroke:0.64px;">FEB</div>
<div class="t" style="left:166.10px;top:1244.30px;font-size:27.2px;line-height:34px;font-weight:700;color:#7f7f7f;transform:scaleX(1.0327);-webkit-text-stroke:1.0px;">4°</div>
<div class="t" style="left:252.86px;top:1194.88px;font-size:17.4px;line-height:22px;font-weight:700;color:#807469;transform:scaleX(1.0239);-webkit-text-stroke:0.64px;">MÄR</div>
<div class="t" style="left:259.36px;top:1244.30px;font-size:27.2px;line-height:34px;font-weight:700;color:#807469;transform:scaleX(1.0310);-webkit-text-stroke:1.0px;">8°</div>
<div class="t" style="left:348.07px;top:1194.88px;font-size:17.4px;line-height:22px;font-weight:700;color:#806852;transform:scaleX(0.9727);-webkit-text-stroke:0.64px;">APR</div>
<div class="t" style="left:344.35px;top:1244.30px;font-size:27.2px;line-height:34px;font-weight:700;color:#806852;transform:scaleX(1.0465);-webkit-text-stroke:1.0px;">11°</div>
<div class="t" style="left:442.21px;top:1194.88px;font-size:17.4px;line-height:22px;font-weight:700;color:#805e3e;transform:scaleX(1.0646);-webkit-text-stroke:0.64px;">MAI</div>
<div class="t" style="left:437.57px;top:1244.30px;font-size:27.2px;line-height:34px;font-weight:700;color:#805e3e;transform:scaleX(1.0465);-webkit-text-stroke:1.0px;">14°</div>
<div class="t" style="left:534.03px;top:1194.88px;font-size:17.4px;line-height:22px;font-weight:700;color:#805024;transform:scaleX(0.9971);-webkit-text-stroke:0.64px;">JUN</div>
<div class="t" style="left:530.79px;top:1244.30px;font-size:27.2px;line-height:34px;font-weight:700;color:#805024;transform:scaleX(1.0465);-webkit-text-stroke:1.0px;">18°</div>
<div class="t" style="left:629.50px;top:1194.88px;font-size:17.4px;line-height:22px;font-weight:700;color:#80460d;transform:scaleX(0.9296);-webkit-text-stroke:0.64px;">JUL</div>
<div class="t" style="left:624.24px;top:1244.30px;font-size:27.2px;line-height:34px;font-weight:700;color:#80460d;transform:scaleX(1.0409);-webkit-text-stroke:1.0px;">21°</div>
<div class="t" style="left:719.21px;top:1194.88px;font-size:17.4px;line-height:22px;font-weight:700;color:#80460d;transform:scaleX(0.9953);-webkit-text-stroke:0.64px;">AUG</div>
<div class="t" style="left:717.46px;top:1244.30px;font-size:27.2px;line-height:34px;font-weight:700;color:#80460d;transform:scaleX(1.0409);-webkit-text-stroke:1.0px;">21°</div>
<div class="t" style="left:817.14px;top:1194.88px;font-size:17.4px;line-height:22px;font-weight:700;color:#805024;transform:scaleX(0.8607);-webkit-text-stroke:0.64px;">SEP</div>
<div class="t" style="left:810.45px;top:1244.30px;font-size:27.2px;line-height:34px;font-weight:700;color:#805024;transform:scaleX(1.0465);-webkit-text-stroke:1.0px;">18°</div>
<div class="t" style="left:907.61px;top:1194.88px;font-size:17.4px;line-height:22px;font-weight:700;color:#805e3e;transform:scaleX(0.9673);-webkit-text-stroke:0.64px;">OKT</div>
<div class="t" style="left:903.67px;top:1244.30px;font-size:27.2px;line-height:34px;font-weight:700;color:#805e3e;transform:scaleX(1.0465);-webkit-text-stroke:1.0px;">14°</div>
<div class="t" style="left:998.89px;top:1194.88px;font-size:17.4px;line-height:22px;font-weight:700;color:#807469;transform:scaleX(1.0543);-webkit-text-stroke:0.64px;">NOV</div>
<div class="t" style="left:1005.12px;top:1244.30px;font-size:27.2px;line-height:34px;font-weight:700;color:#807469;transform:scaleX(1.0310);-webkit-text-stroke:1.0px;">8°</div>
<div class="t" style="left:1095.66px;top:1194.88px;font-size:17.4px;line-height:22px;font-weight:700;color:#807c7a;transform:scaleX(0.9398);-webkit-text-stroke:0.64px;">DEZ</div>
<div class="t" style="left:1098.76px;top:1244.30px;font-size:27.2px;line-height:34px;font-weight:700;color:#807c7a;transform:scaleX(1.0139);-webkit-text-stroke:1.0px;">5°</div>
</section>
<section>
<div class="strip" style="top:1343.75px"></div>
<div class="band" style="top:1343.75px"></div>
<div class="panel" style="top:1462.5px"></div>
<svg width="1200" height="2140" viewBox="0 0 1200 2140"><path d="M95.00,1413.75 L60.00,1450.00 A7,7 0 0 0 72.50,1455.75" fill="none" stroke="#005c9f" stroke-width="2.4" stroke-linecap="round"/><path d="M95.50,1347.00 A47.75,47.75 0 0 0 163.00,1414.50 A40,40 0 0 1 141.75,1393.25 A50,50 0 0 1 116.25,1368.00 A40,40 0 0 1 95.50,1347.00 Z" fill="#fff" stroke="#005c9f" stroke-width="2.4" stroke-linejoin="round"/><path d="M95.00,1413.75 Q97.50,1387.50 116.25,1368.00 M95.00,1413.75 Q120.00,1411.25 141.75,1393.25" fill="none" stroke="#005c9f" stroke-width="2.4" stroke-linecap="round" stroke-dasharray="14 4 30 4 100"/><path d="M87.50,1373.25 Q86.25,1380.50 87.50,1387.50 M133.75,1422.50 Q140.00,1421.75 145.75,1419.25" fill="none" stroke="#005c9f" stroke-width="2.4" stroke-linecap="round"/></svg>
<div class="t h2" style="left:442.82px;top:1378.55px;font-size:40.6px;line-height:51px;font-weight:700;transform:scaleX(0.9669);-webkit-text-stroke:1.5px;">NIEDERSCHLAG</div>
<svg width="1200" height="2140" viewBox="0 0 1200 2140"><path d="M166.5,1509.0 V1784.5 M218.5,1509.0 V1784.5 M269.5,1509.0 V1784.5 M320.5,1509.0 V1784.5 M371.5,1509.0 V1784.5 M423.5,1509.0 V1784.5 M474.5,1509.0 V1784.5 M525.5,1509.0 V1784.5 M577.5,1509.0 V1784.5 M628.5,1509.0 V1784.5 M679.5,1509.0 V1784.5 M115.5,1738.5 H730.9 M115.5,1693.5 H730.9 M115.5,1647.5 H730.9 M115.5,1601.5 H730.9 M115.5,1555.5 H730.9 M115.5,1509.5 H730.9" stroke="#b1cde3" stroke-width="1" fill="none" shape-rendering="crispEdges"/><rect x="131" y="1573" width="22" height="211.5" fill="#005c9f"/><rect x="182" y="1605" width="22" height="179.5" fill="#005c9f"/><rect x="234" y="1582" width="22" height="202.5" fill="#005c9f"/><rect x="285" y="1581" width="22" height="203.5" fill="#005c9f"/><rect x="336" y="1596" width="22" height="188.5" fill="#005c9f"/><rect x="388" y="1625" width="22" height="159.5" fill="#005c9f"/><rect x="439" y="1685" width="22" height="99.5" fill="#005c9f"/><rect x="490" y="1708" width="22" height="76.5" fill="#005c9f"/><rect x="541" y="1667" width="22" height="117.5" fill="#005c9f"/><rect x="593" y="1578" width="22" height="206.5" fill="#005c9f"/><rect x="644" y="1539" width="22" height="245.5" fill="#005c9f"/><rect x="695" y="1611" width="22" height="173.5" fill="#005c9f"/><path d="M115.5,1509.0 V1785.0 M115.0,1784.5 H730.9 M110.0,1738.5 H115.5 M110.0,1693.5 H115.5 M110.0,1647.5 H115.5 M110.0,1601.5 H115.5 M110.0,1555.5 H115.5 M110.0,1509.5 H115.5 M110.0,1784.5 H115.5" stroke="#005c9f" stroke-width="1" fill="none" shape-rendering="crispEdges"/><rect x="313" y="1835" width="7" height="7" fill="#005c9f"/></svg>
<div class="t" style="left:73.81px;top:1777.00px;font-size:11.8px;line-height:15px;transform:scaleX(1.0512);">0 mm</div>
<div class="t" style="left:67.03px;top:1731.17px;font-size:11.8px;line-height:15px;transform:scaleX(1.0479);">20 mm</div>
<div class="t" style="left:67.04px;top:1685.33px;font-size:11.8px;line-height:15px;transform:scaleX(1.0474);">40 mm</div>
<div class="t" style="left:67.12px;top:1639.50px;font-size:11.8px;line-height:15px;transform:scaleX(1.0453);">60 mm</div>
<div class="t" style="left:67.13px;top:1593.67px;font-size:11.8px;line-height:15px;transform:scaleX(1.0448);">80 mm</div>
<div class="t" style="left:60.58px;top:1547.83px;font-size:11.8px;line-height:15px;transform:scaleX(1.0375);">100 mm</div>
<div class="t" style="left:60.58px;top:1502.00px;font-size:11.8px;line-height:15px;transform:scaleX(1.0375);">120 mm</div>
<div class="t" style="left:129.72px;top:1792.00px;font-size:13.3px;line-height:17px;transform:scaleX(0.9449);">Jan</div>
<div class="t" style="left:179.48px;top:1792.00px;font-size:13.3px;line-height:17px;transform:scaleX(0.9672);">Feb</div>
<div class="t" style="left:229.22px;top:1792.00px;font-size:13.3px;line-height:17px;transform:scaleX(1.0843);">Mär</div>
<div class="t" style="left:282.41px;top:1792.00px;font-size:13.3px;line-height:17px;transform:scaleX(1.0717);">Apr</div>
<div class="t" style="left:333.24px;top:1792.00px;font-size:13.3px;line-height:17px;transform:scaleX(1.0576);">Mai</div>
<div class="t" style="left:385.76px;top:1792.00px;font-size:13.3px;line-height:17px;transform:scaleX(0.9817);">Jun</div>
<div class="t" style="left:439.42px;top:1792.00px;font-size:13.3px;line-height:17px;transform:scaleX(0.9581);">Jul</div>
<div class="t" style="left:486.69px;top:1792.00px;font-size:13.3px;line-height:17px;transform:scaleX(1.0367);">Aug</div>
<div class="t" style="left:538.43px;top:1792.00px;font-size:13.3px;line-height:17px;transform:scaleX(0.9598);">Sep</div>
<div class="t" style="left:589.89px;top:1792.00px;font-size:13.3px;line-height:17px;transform:scaleX(1.0555);">Okt</div>
<div class="t" style="left:639.49px;top:1792.00px;font-size:13.3px;line-height:17px;transform:scaleX(1.0433);">Nov</div>
<div class="t" style="left:691.75px;top:1792.00px;font-size:13.3px;line-height:17px;transform:scaleX(0.9892);">Dez</div>
<div class="t" style="left:326.85px;top:1830.20px;font-size:13.3px;line-height:17px;transform:scaleX(1.0559);">Niederschlagssumme</div>
<div class="rot" style="left:51px;top:1690px;transform:rotate(-90deg)"><div class="t" style="left:-1.16px;top:-13.00px;font-size:13.3px;line-height:17px;transform:scaleX(1.0603);">Niederschlag</div></div>
<div class="t" style="left:785.22px;top:1504.40px;font-size:19px;line-height:24px;transform:scaleX(1.0499);">Die durchschnittliche jährliche</div>
<div class="t" style="left:785.25px;top:1528.15px;font-size:19px;line-height:24px;transform:scaleX(1.0292);">Niederschlagsmenge in Biel beträgt etwa</div>
<div class="t" style="left:785.11px;top:1551.90px;font-size:19px;line-height:24px;transform:scaleX(1.0339);">898 mm. Der Unterschied zwischen der</div>
<div class="t" style="left:785.27px;top:1575.65px;font-size:19px;line-height:24px;transform:scaleX(1.0304);">höchsten Niederschlagsmenge</div>
<div class="t" style="left:784.53px;top:1599.40px;font-size:19px;line-height:24px;transform:scaleX(1.0396);">(November) und der niedrigsten (August)</div>
<div class="t" style="left:785.33px;top:1623.15px;font-size:19px;line-height:24px;transform:scaleX(1.0561);">beträgt 74 mm.</div>
<div class="t" style="left:785.24px;top:1670.65px;font-size:19px;line-height:24px;transform:scaleX(1.0345);">Die meisten Niederschläge fallen im</div>
<div class="t" style="left:785.21px;top:1694.40px;font-size:19px;line-height:24px;transform:scaleX(1.0570);">November, mit einer monatlichen</div>
<div class="t" style="left:785.25px;top:1718.15px;font-size:19px;line-height:24px;transform:scaleX(1.0313);">Niederschlagsmenge von 107 mm in</div>
<div class="t" style="left:785.22px;top:1741.90px;font-size:19px;line-height:24px;transform:scaleX(1.0509);">diesem Zeitraum und einer</div>
<div class="t" style="left:785.24px;top:1765.65px;font-size:19px;line-height:24px;transform:scaleX(1.0366);">Niederschlagswahrscheinlichkeit von</div>
<div class="t" style="left:785.24px;top:1789.40px;font-size:19px;line-height:24px;transform:scaleX(1.0157);">etwa 32%. Die geringsten</div>
<div class="t" style="left:785.25px;top:1813.15px;font-size:19px;line-height:24px;transform:scaleX(1.0289);">Niederschlagsmengen werden dagegen</div>
<div class="t" style="left:785.15px;top:1836.90px;font-size:19px;line-height:24px;transform:scaleX(1.0562);">im August mit durchschnittlich 33 mm</div>
<div class="t" style="left:785.24px;top:1860.65px;font-size:19px;line-height:24px;transform:scaleX(1.0330);">und einer Wahrscheinlichkeit von 10%</div>
<div class="t" style="left:784.93px;top:1884.40px;font-size:19px;line-height:24px;transform:scaleX(1.0375);">verzeichnet.</div>
<div class="t" style="left:785.83px;top:1936.07px;font-size:18.4px;line-height:23px;font-weight:700;transform:scaleX(0.9803);-webkit-text-stroke:0.67px;">NIEDERSCHLAG NACH TYP</div>
<div class="t" style="left:785.79px;top:1968.90px;font-size:19px;line-height:24px;transform:scaleX(0.9624);">• Regen: 88%</div>
<div class="t" style="left:785.78px;top:1997.50px;font-size:19px;line-height:24px;transform:scaleX(0.9684);">• Schnee: 12%</div>
<div class="abs" style="left:37px;top:1870px;width:703px;height:151px;background:#b0dbff;border-radius:7px;overflow:hidden"><div class="abs" style="left:0;top:0;width:703px;height:31.2px;background:#2e9de0"></div></div>
<div class="t" style="left:234.26px;top:1877.81px;font-size:15.4px;line-height:19px;font-weight:700;color:#fff;transform:scaleX(0.9916);-webkit-text-stroke:0.57px;">NIEDERSCHLAGSWAHRSCHEINLICHKEIT</div>
<svg width="1200" height="2140" viewBox="0 0 1200 2140"><path d="M67.00,1915.3 C70.20,1926.80 92.00,1945.30 92.00,1965.80 A25,25 0 0 1 42.00,1965.80 C42.00,1945.30 63.80,1926.80 67.00,1915.3 Z" fill="#005c9f"/><path d="M125.45,1915.3 C128.65,1926.80 150.45,1945.30 150.45,1965.80 A25,25 0 0 1 100.45,1965.80 C100.45,1945.30 122.25,1926.80 125.45,1915.3 Z" fill="#005c9f"/><path d="M183.90,1915.3 C187.10,1926.80 208.90,1945.30 208.90,1965.80 A25,25 0 0 1 158.90,1965.80 C158.90,1945.30 180.70,1926.80 183.90,1915.3 Z" fill="#005c9f"/><path d="M242.35,1915.3 C245.55,1926.80 267.35,1945.30 267.35,1965.80 A25,25 0 0 1 217.35,1965.80 C217.35,1945.30 239.15,1926.80 242.35,1915.3 Z" fill="#005c9f"/><path d="M300.80,1915.3 C304.00,1926.80 325.80,1945.30 325.80,1965.80 A25,25 0 0 1 275.80,1965.80 C275.80,1945.30 297.60,1926.80 300.80,1915.3 Z" fill="#005c9f"/><path d="M359.25,1915.3 C362.45,1926.80 384.25,1945.30 384.25,1965.80 A25,25 0 0 1 334.25,1965.80 C334.25,1945.30 356.05,1926.80 359.25,1915.3 Z" fill="#2e9de0"/><path d="M417.70,1915.3 C420.90,1926.80 442.70,1945.30 442.70,1965.80 A25,25 0 0 1 392.70,1965.80 C392.70,1945.30 414.50,1926.80 417.70,1915.3 Z" fill="#2e9de0"/><path d="M476.15,1915.3 C479.35,1926.80 501.15,1945.30 501.15,1965.80 A25,25 0 0 1 451.15,1965.80 C451.15,1945.30 472.95,1926.80 476.15,1915.3 Z" fill="#2e9de0"/><path d="M534.60,1915.3 C537.80,1926.80 559.60,1945.30 559.60,1965.80 A25,25 0 0 1 509.60,1965.80 C509.60,1945.30 531.40,1926.80 534.60,1915.3 Z" fill="#2e9de0"/><path d="M593.05,1915.3 C596.25,1926.80 618.05,1945.30 618.05,1965.80 A25,25 0 0 1 568.05,1965.80 C568.05,1945.30 589.85,1926.80 593.05,1915.3 Z" fill="#2e9de0"/><path d="M651.50,1915.3 C654.70,1926.80 676.50,1945.30 676.50,1965.80 A25,25 0 0 1 626.50,1965.80 C626.50,1945.30 648.30,1926.80 651.50,1915.3 Z" fill="#005c9f"/><path d="M709.95,1915.3 C713.15,1926.80 734.95,1945.30 734.95,1965.80 A25,25 0 0 1 684.95,1965.80 C684.95,1945.30 706.75,1926.80 709.95,1915.3 Z" fill="#2e9de0"/></svg>
<div class="t" style="left:48.05px;top:1955.68px;font-size:17.4px;line-height:22px;font-weight:700;color:#fff;transform:scaleX(1.0270);-webkit-text-stroke:0.64px;">31%</div>
<div class="t" style="left:53.26px;top:1997.58px;font-size:11.8px;line-height:15px;font-weight:700;transform:scaleX(0.9688);-webkit-text-stroke:0.44px;">JAN</div>
<div class="t" style="left:106.50px;top:1955.68px;font-size:17.4px;line-height:22px;font-weight:700;color:#fff;transform:scaleX(1.0270);-webkit-text-stroke:0.64px;">30%</div>
<div class="t" style="left:113.40px;top:1997.58px;font-size:11.8px;line-height:15px;font-weight:700;transform:scaleX(0.8848);-webkit-text-stroke:0.44px;">FEB</div>
<div class="t" style="left:164.73px;top:1955.68px;font-size:17.4px;line-height:22px;font-weight:700;color:#fff;transform:scaleX(1.0332);-webkit-text-stroke:0.64px;">29%</div>
<div class="t" style="left:168.26px;top:1997.58px;font-size:11.8px;line-height:15px;font-weight:700;transform:scaleX(1.0316);-webkit-text-stroke:0.44px;">MÄR</div>
<div class="t" style="left:223.40px;top:1955.68px;font-size:17.4px;line-height:22px;font-weight:700;color:#fff;transform:scaleX(1.0270);-webkit-text-stroke:0.64px;">30%</div>
<div class="t" style="left:228.62px;top:1997.58px;font-size:11.8px;line-height:15px;font-weight:700;transform:scaleX(0.9800);-webkit-text-stroke:0.44px;">APR</div>
<div class="t" style="left:281.63px;top:1955.68px;font-size:17.4px;line-height:22px;font-weight:700;color:#fff;transform:scaleX(1.0332);-webkit-text-stroke:0.64px;">26%</div>
<div class="t" style="left:287.70px;top:1997.58px;font-size:11.8px;line-height:15px;font-weight:700;transform:scaleX(1.0725);-webkit-text-stroke:0.44px;">MAI</div>
<div class="t" style="left:340.08px;top:1955.68px;font-size:17.4px;line-height:22px;font-weight:700;color:#fff;transform:scaleX(1.0332);-webkit-text-stroke:0.64px;">21%</div>
<div class="t" style="left:345.10px;top:1997.58px;font-size:11.8px;line-height:15px;font-weight:700;transform:scaleX(1.0046);-webkit-text-stroke:0.44px;">JUN</div>
<div class="t" style="left:398.21px;top:1955.68px;font-size:17.4px;line-height:22px;font-weight:700;color:#fff;transform:scaleX(1.0372);-webkit-text-stroke:0.64px;">13%</div>
<div class="t" style="left:404.75px;top:1997.58px;font-size:11.8px;line-height:15px;font-weight:700;transform:scaleX(0.9365);-webkit-text-stroke:0.44px;">JUL</div>
<div class="t" style="left:456.66px;top:1955.68px;font-size:17.4px;line-height:22px;font-weight:700;color:#fff;transform:scaleX(1.0372);-webkit-text-stroke:0.64px;">10%</div>
<div class="t" style="left:461.72px;top:1997.58px;font-size:11.8px;line-height:15px;font-weight:700;transform:scaleX(1.0027);-webkit-text-stroke:0.44px;">AUG</div>
<div class="t" style="left:515.11px;top:1955.68px;font-size:17.4px;line-height:22px;font-weight:700;color:#fff;transform:scaleX(1.0372);-webkit-text-stroke:0.64px;">15%</div>
<div class="t" style="left:522.89px;top:1997.58px;font-size:11.8px;line-height:15px;font-weight:700;transform:scaleX(0.8671);-webkit-text-stroke:0.44px;">SEP</div>
<div class="t" style="left:573.88px;top:1955.68px;font-size:17.4px;line-height:22px;font-weight:700;color:#fff;transform:scaleX(1.0332);-webkit-text-stroke:0.64px;">23%</div>
<div class="t" style="left:579.24px;top:1997.58px;font-size:11.8px;line-height:15px;font-weight:700;transform:scaleX(0.9746);-webkit-text-stroke:0.44px;">OKT</div>
<div class="t" style="left:632.55px;top:1955.68px;font-size:17.4px;line-height:22px;font-weight:700;color:#fff;transform:scaleX(1.0270);-webkit-text-stroke:0.64px;">32%</div>
<div class="t" style="left:636.04px;top:1997.58px;font-size:11.8px;line-height:15px;font-weight:700;transform:scaleX(1.0622);-webkit-text-stroke:0.44px;">NOV</div>
<div class="t" style="left:690.78px;top:1955.68px;font-size:17.4px;line-height:22px;font-weight:700;color:#fff;transform:scaleX(1.0332);-webkit-text-stroke:0.64px;">24%</div>
<div class="t" style="left:697.06px;top:1997.58px;font-size:11.8px;line-height:15px;font-weight:700;transform:scaleX(0.9469);-webkit-text-stroke:0.44px;">DEZ</div>
</section>
<footer><div class="footer"></div>
<svg width="1200" height="2140" viewBox="0 0 1200 2140"><circle cx="58.1" cy="2111.5" r="17" fill="none" stroke="#b0dbff" stroke-width="3.4"/><circle cx="106.4" cy="2111.5" r="17" fill="none" stroke="#b0dbff" stroke-width="3.4"/><circle cx="154.9" cy="2111.5" r="17" fill="none" stroke="#b0dbff" stroke-width="3.4"/><circle cx="106.4" cy="2102.2" r="2.7" fill="#b0dbff"/><path d="M101.6,2106.6 h9.6 v8.6 h-2.1 v8 h-5.4 v-8 h-2.1 z" fill="#b0dbff"/><path d="M148,2108.2 h14 M148,2115.2 h14" stroke="#b0dbff" stroke-width="3.3" fill="none"/></svg>
<div class="t" style="left:46.84px;top:2101.90px;font-size:16.05px;line-height:20px;font-weight:700;color:#b0dbff;transform:scaleX(0.9479);font-family:&quot;DejaVu Sans&quot;,&quot;Liberation Sans&quot;,sans-serif;">CC</div>
<div class="t" style="left:185.04px;top:2103.10px;font-size:15.23px;line-height:19px;font-weight:700;color:#b0dbff;font-family:&quot;DejaVu Sans&quot;,&quot;Liberation Sans&quot;,sans-serif;">CC BY-ND 4.0</div>
<div class="t" style="left:978.93px;top:2098.60px;font-size:21.8px;line-height:27px;font-weight:700;color:#fff;transform:scaleX(0.9623);-webkit-text-stroke:0.8px;">METEOATLAS.DE</div>
</footer>
<div class="frame"></div>
</body></html>
